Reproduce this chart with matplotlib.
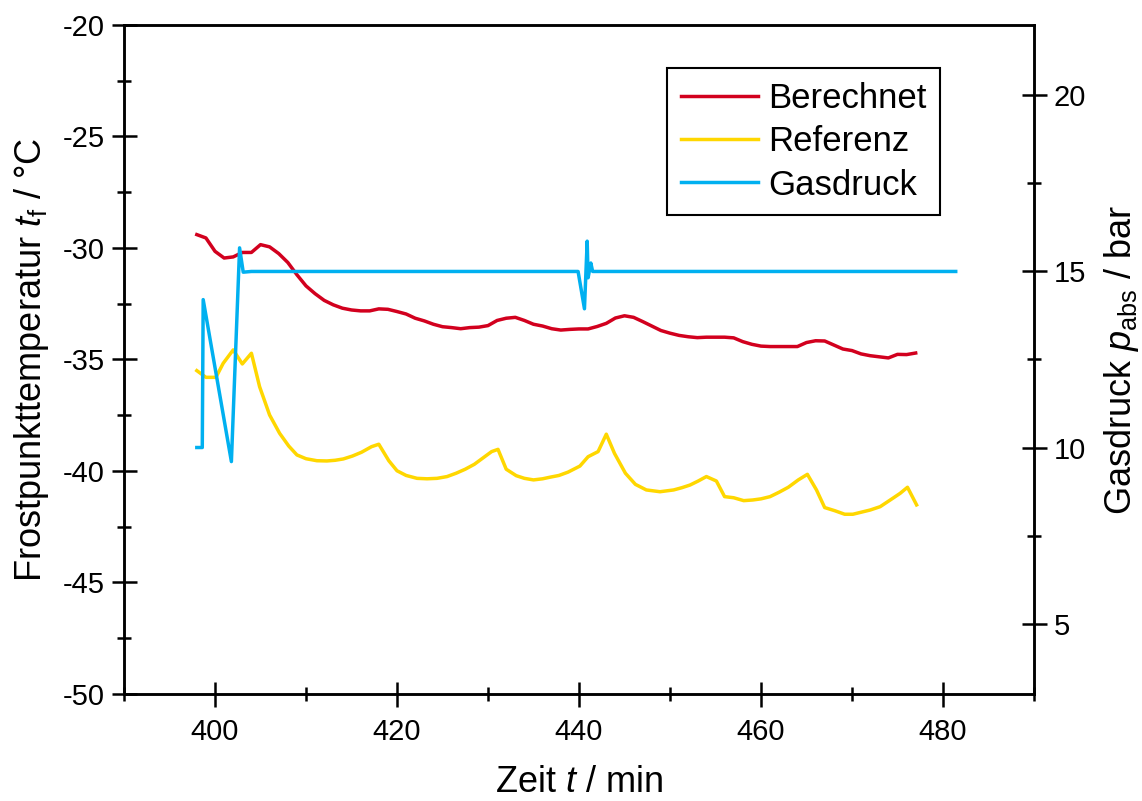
import matplotlib
matplotlib.use("Agg")
from matplotlib import pyplot as plt

# fonts: Arial look-alike
plt.rcParams['font.family'] = ['Liberation Sans', 'DejaVu Sans']
plt.rcParams['mathtext.fontset'] = 'custom'
plt.rcParams['mathtext.rm'] = 'Liberation Sans'
plt.rcParams['mathtext.it'] = 'Liberation Sans:italic'
plt.rcParams['axes.unicode_minus'] = False

# Berechnet (frost point, left axis)
t_ber = [398, 399, 400, 401, 402, 403, 404, 405, 406, 407, 408, 409, 410, 411, 412,
         413, 414, 415, 416, 417, 418, 419, 420, 421, 422, 423, 424, 425, 426, 427,
         428, 429, 430, 431, 432, 433, 434, 435, 436, 437, 438, 439, 440, 441, 442,
         443, 444, 445, 446, 447, 448, 449, 450, 451, 452, 453, 454, 455, 456, 457,
         458, 459, 460, 461, 462, 463, 464, 465, 466, 467, 468, 469, 470, 471, 472,
         473, 474, 475, 476, 477]
T_ber = [-29.4, -29.55, -30.15, -30.45, -30.4, -30.2, -30.2, -29.85, -29.95, -30.25,
         -30.65, -31.2, -31.7, -32.05, -32.35, -32.55, -32.7, -32.78, -32.82, -32.82,
         -32.73, -32.75, -32.85, -32.96, -33.15, -33.27, -33.42, -33.53, -33.57, -33.62,
         -33.57, -33.55, -33.48, -33.25, -33.15, -33.11, -33.25, -33.42, -33.5, -33.62,
         -33.68, -33.65, -33.63, -33.63, -33.52, -33.38, -33.14, -33.04, -33.11, -33.3,
         -33.5, -33.7, -33.82, -33.92, -33.98, -34.02, -34.0, -34.0, -34.0, -34.03,
         -34.2, -34.32, -34.4, -34.42, -34.42, -34.42, -34.42, -34.24, -34.16, -34.17,
         -34.35, -34.53, -34.6, -34.75, -34.83, -34.88, -34.93, -34.77, -34.78, -34.71]

# Referenz (frost point, left axis)
t_ref = [398.0, 399.0, 400.1, 400.9, 402.0, 403.0, 404.0, 404.9, 406.0, 407.1, 408.1,
         409.0, 410.0, 411.2, 412.3, 413.2, 414.1, 415.1, 416.1, 417.2, 418.0, 419.1,
         420.0, 421.0, 422.2, 423.3, 424.4, 425.5, 426.5, 427.5, 428.5, 429.5, 430.4,
         431.1, 432.0, 433.1, 434.0, 435.0, 436.0, 436.8, 437.8, 438.8, 440.1, 441.0,
         442.1, 443.0, 443.9, 445.1, 446.2, 447.4, 448.9, 450.4, 451.3, 452.2, 453.1,
         454.0, 455.1, 456.0, 457.0, 458.1, 459.1, 460.0, 461.0, 462.0, 463.0, 464.1,
         465.1, 466.1, 467.0, 468.1, 469.2, 470.1, 471.0, 472.0, 473.1, 474.5, 475.3,
         476.1, 477.1]
T_ref = [-35.5, -35.8, -35.8, -35.17, -34.57, -35.2, -34.72, -36.22, -37.49, -38.31,
         -38.88, -39.28, -39.45, -39.54, -39.55, -39.52, -39.46, -39.33, -39.16, -38.91,
         -38.8, -39.54, -39.99, -40.2, -40.33, -40.35, -40.33, -40.25, -40.1, -39.92,
         -39.7, -39.4, -39.13, -39.03, -39.92, -40.21, -40.33, -40.4, -40.35, -40.28,
         -40.2, -40.05, -39.78, -39.36, -39.13, -38.35, -39.21, -40.1, -40.6, -40.85,
         -40.93, -40.85, -40.75, -40.63, -40.45, -40.25, -40.45, -41.15, -41.2, -41.33,
         -41.3, -41.25, -41.15, -40.95, -40.73, -40.4, -40.15, -40.85, -41.64, -41.78,
         -41.94, -41.94, -41.85, -41.75, -41.6, -41.22, -41.0, -40.73, -41.52]

# Gasdruck (pressure, right axis)
t_gas = [398.0, 398.6, 398.7, 401.8, 402.7, 403.1, 404.0, 439.9, 440.6, 440.9,
         441.0, 441.3, 441.5, 481.4]
p_gas = [10.0, 10.0, 14.2, 9.6, 15.67, 14.98, 15.0, 15.0, 13.94, 15.86,
         14.82, 15.24, 15.0, 15.0]

c_ber = '#D2001E'
c_ref = '#FFD700'
c_gas = '#00B0F0'

fig = plt.figure(figsize=(11.42, 8.01), dpi=100)
ax = fig.add_axes([0.1086, 0.1336, 0.7968, 0.8352])
ax2 = ax.twinx()

l1, = ax.plot(t_ber, T_ber, color=c_ber, lw=2.5, label='Berechnet')
l2, = ax.plot(t_ref, T_ref, color=c_ref, lw=2.5, label='Referenz')
l3, = ax2.plot(t_gas, p_gas, color=c_gas, lw=2.5, label='Gasdruck')

ax.set_xlim(390, 490)
ax.set_ylim(-50, -20)
ax2.set_ylim(3, 22)
ax.set_xticks([400, 420, 440, 460, 480])
ax.set_xticks(range(390, 491, 10), minor=True)
ax.set_yticks(range(-50, -19, 5))
ax.set_yticks([-47.5, -42.5, -37.5, -32.5, -27.5, -22.5], minor=True)
ax2.set_yticks([5, 10, 15, 20])
ax2.set_yticks([7.5, 12.5, 17.5], minor=True)

for a in (ax, ax2):
    for s in a.spines.values():
        s.set_linewidth(1.8)
    a.tick_params(which='major', direction='inout', length=18, width=1.8, labelsize=21)
    a.tick_params(which='minor', direction='inout', length=10, width=1.8)
ax.tick_params(which='both', top=False, right=False)
ax.tick_params(axis='x', pad=8)
ax.tick_params(axis='y', pad=5)
ax2.tick_params(which='both', left=False, top=False, pad=5)

ax.set_xlabel('Zeit $t$ / min', fontsize=26, labelpad=14)
ax.set_ylabel('Frostpunkttemperatur $t_\\mathrm{f}$ / °C', fontsize=26, labelpad=8)
ax2.set_ylabel('Gasdruck $p_\\mathrm{abs}$ / bar', fontsize=26, labelpad=12)

leg = ax.legend(handles=[l1, l2, l3], loc='upper right', bbox_to_anchor=(0.897, 0.936),
                fontsize=25, frameon=True, fancybox=False, handlelength=2.2,
                labelspacing=0.3, borderpad=0.4, handletextpad=0.3, borderaxespad=0)
leg.get_frame().set_edgecolor('black')
leg.get_frame().set_linewidth(1.5)
leg.get_frame().set_alpha(1)

fig.savefig('out.png', dpi=100)
